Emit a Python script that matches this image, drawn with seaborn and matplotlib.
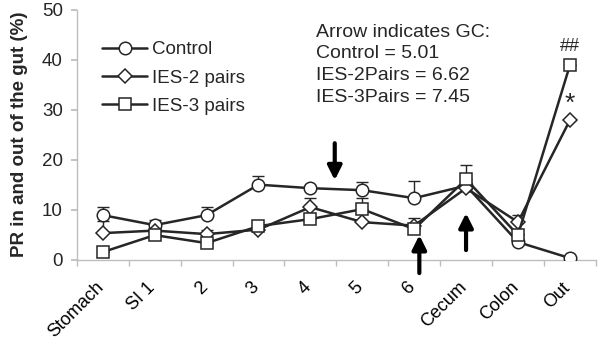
import numpy as np
import pandas as pd
import matplotlib
matplotlib.use("Agg")
import matplotlib.pyplot as plt
import matplotlib.transforms as mtransforms
import seaborn as sns

# data
segments = ["Stomach", "SI 1", "2", "3", "4", "5", "6", "Cecum", "Colon", "Out"]
control = [8.9, 6.9, 8.9, 15.0, 14.3, 13.9, 12.3, 14.8, 3.5, 0.3]
ies2 = [5.3, 5.8, 5.1, 6.0, 10.5, 7.5, 6.8, 14.3, 7.5, 27.9]
ies3 = [1.5, 4.9, 3.3, 6.7, 8.1, 10.1, 6.1, 16.1, 4.9, 38.9]
control_err = [1.6, 1.0, 1.6, 1.7, 0.4, 1.6, 3.4, 0.5, 0.5, 0.0]
ies2_err = [2.4, 0.5, 0.8, 0.3, 1.8, 0.3, 1.5, 0.3, 1.4, 0.0]
ies3_err = [0.3, 0.3, 0.3, 0.3, 0.3, 2.2, 0.3, 2.8, 0.3, 0.0]
series = ["Control", "IES-2 pairs", "IES-3 pairs"]

sns.set_theme(style="white")
plt.rcParams["font.family"] = ["Liberation Sans", "DejaVu Sans"]

df = pd.DataFrame({
    "segment": segments * 3,
    "PR": control + ies2 + ies3,
    "group": np.repeat(series, len(segments)),
})

fig = plt.figure(figsize=(6, 3.42), dpi=100)
ax = fig.add_axes([0.128, 0.241, 0.865, 0.730])

line_col = "#262626"
xs = np.arange(len(segments))
for vals, errs in zip([control, ies2, ies3], [control_err, ies2_err, ies3_err]):
    ax.errorbar(xs, vals, yerr=[np.zeros(len(vals)), errs], fmt="none",
                ecolor=line_col, elinewidth=1.0, capsize=4, capthick=1.0, zorder=1)

sns.lineplot(data=df, x="segment", y="PR", hue="group", style="group",
             markers={"Control": "o", "IES-2 pairs": "D", "IES-3 pairs": "s"},
             dashes=False, palette=[line_col] * 3, markersize=9,
             markerfacecolor="white", markeredgecolor=line_col, markeredgewidth=1.1,
             linewidth=1.8, ax=ax, zorder=3, legend=True)
for ln in ax.get_lines():
    if ln.get_marker() == "D":
        ln.set_markersize(7.5)

ax.set_xlim(-0.5, len(segments) - 0.5)
ax.set_ylim(0, 50)
ax.set_yticks([0, 10, 20, 30, 40, 50])
ax.set_xticks(xs)
ax.set_xticks(np.arange(-0.5, len(segments)), minor=True)
ax.tick_params(axis="x", which="major", length=0, pad=14, labelsize=13, colors="black")
ax.tick_params(axis="x", which="minor", length=4, color="#bdbdbd", direction="out",
               bottom=True)
ax.tick_params(axis="y", length=4, color="#bdbdbd", direction="out", labelsize=13.5,
               pad=6, left=True)
ax.set_xticklabels(segments, rotation=45, ha="right", va="top", rotation_mode="anchor")
shift = mtransforms.ScaledTranslation(-8 / 100, 0, fig.dpi_scale_trans)
for lab in ax.xaxis.get_majorticklabels():
    lab.set_transform(lab.get_transform() + shift)
for s in ["top", "right"]:
    ax.spines[s].set_visible(False)
for s in ["left", "bottom"]:
    ax.spines[s].set_color("#bdbdbd")
    ax.spines[s].set_linewidth(1.0)
ax.set_xlabel("")
ax.set_ylabel("PR in and out of the gut (%)", fontsize=13.5, fontweight="bold",
              labelpad=10)

# legend
handles, labels = ax.get_legend_handles_labels()
for h in handles:
    h.set_markerfacecolor("white")
    h.set_markeredgecolor(line_col)
ax.legend(handles, labels, loc="upper left", bbox_to_anchor=(0.035, 0.905),
          frameon=False, fontsize=13.5, handlelength=2.4, handletextpad=0.25,
          labelspacing=0.6, borderaxespad=0)

# annotation text
ax.text(4.1, 47.2, "Arrow indicates GC:\nControl = 5.01\nIES-2Pairs = 6.62\nIES-3Pairs = 7.45",
        fontsize=14, va="top", ha="left", linespacing=1.35)
ax.text(9, 41.0, "##", fontsize=13, ha="center", va="bottom")
ax.text(9, 28.8, "*", fontsize=19, ha="center", va="bottom")

# GC arrows
arrow = dict(arrowstyle="-|>,head_length=0.6,head_width=0.3", color="black", lw=3,
             mutation_scale=14, shrinkA=0, shrinkB=0)
ax.annotate("", xy=(4.47, 15.9), xytext=(4.47, 23.3), arrowprops=arrow)
ax.annotate("", xy=(6.1, 4.9), xytext=(6.1, -2.7), arrowprops=arrow,
            annotation_clip=False)
ax.annotate("", xy=(7.0, 9.3), xytext=(7.0, 1.9), arrowprops=arrow)

fig.savefig("out.png", dpi=100)
